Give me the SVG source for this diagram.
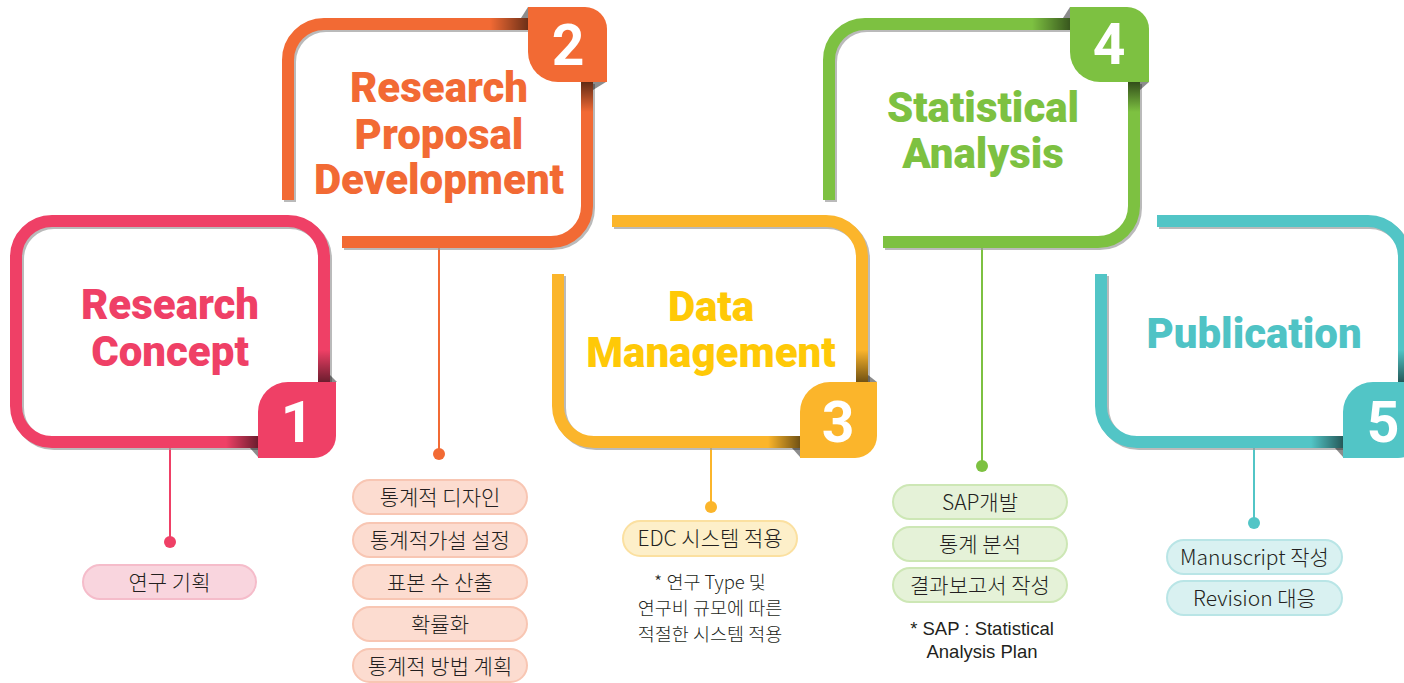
<svg xmlns="http://www.w3.org/2000/svg" width="1404" height="683" viewBox="0 0 1404 683">
<style>
.sh{fill:none;stroke:#9c9c9c;stroke-width:12;opacity:.7}
.fr{fill:none;stroke-width:12}
.title{font-family:Roboto,"Liberation Sans",sans-serif;font-weight:900;font-size:42px;text-anchor:middle}
.num{font-family:Roboto,"Liberation Sans",sans-serif;font-weight:700;font-size:57px;fill:#fff;text-anchor:middle}
.pt{font-family:"Noto Sans CJK KR","Noto Sans",sans-serif;font-weight:300;font-size:21px;fill:#231F20;text-anchor:middle}
.note{font-family:"Noto Sans CJK KR","Noto Sans",sans-serif;font-weight:300;font-size:18.5px;fill:#231F20;text-anchor:middle}
.lnote{font-family:"Liberation Sans",Arial,sans-serif;font-size:18.5px;fill:#231F20;text-anchor:middle}
.cut{stroke:#777;stroke-width:3;opacity:.55;filter:url(#blur)}
.fold{fill:#000;opacity:.45}
</style>
<defs>
<filter id="blur" x="-50%" y="-50%" width="200%" height="200%"><feGaussianBlur stdDeviation="1.6"/></filter>
<linearGradient id="dDown" x1="0" y1="0" x2="0" y2="1"><stop offset="0" stop-color="#000" stop-opacity="0"/><stop offset="1" stop-color="#000" stop-opacity=".55"/></linearGradient>
<linearGradient id="dUp" x1="0" y1="1" x2="0" y2="0"><stop offset="0" stop-color="#000" stop-opacity="0"/><stop offset="1" stop-color="#000" stop-opacity=".6"/></linearGradient>
<linearGradient id="dRight" x1="0" y1="0" x2="1" y2="0"><stop offset="0" stop-color="#000" stop-opacity="0"/><stop offset="1" stop-color="#000" stop-opacity=".55"/></linearGradient>
</defs>
<rect width="1404" height="683" fill="#fff"/>

<g id="connectors">
<line x1="170" y1="448" x2="170" y2="541" stroke="#EF4066" stroke-width="2"/><circle cx="170" cy="542" r="6" fill="#EF4066"/>
<line x1="439" y1="248" x2="439" y2="454" stroke="#F26A34" stroke-width="2"/><circle cx="439" cy="454" r="6" fill="#F26A34"/>
<line x1="711" y1="448" x2="711" y2="507" stroke="#FBB52B" stroke-width="2"/><circle cx="711" cy="507" r="6" fill="#FBB52B"/>
<line x1="982" y1="248" x2="982" y2="466" stroke="#7DC141" stroke-width="2"/><circle cx="982" cy="466" r="6" fill="#7DC141"/>
<line x1="1254" y1="448" x2="1254" y2="523" stroke="#52C5C6" stroke-width="2"/><circle cx="1254" cy="523" r="6" fill="#52C5C6"/>
</g>

<g id="node2">
<path class="sh" transform="translate(2,2)" d="M288,200 L288,60 A36,36 0 0 1 324,24 L528,24 M587,82 L587,206 A36,36 0 0 1 551,242 L342,242"/>
<path class="fr" stroke="#F26A34" d="M288,200 L288,60 A36,36 0 0 1 324,24 L528,24 M587,82 L587,206 A36,36 0 0 1 551,242 L342,242"/>
<rect x="490" y="18" width="38" height="12" fill="url(#dRight)"/>
<rect x="581" y="82" width="12" height="30" fill="url(#dUp)"/>
<polygon class="fold" points="528,7 528,18 521,18"/>
<polygon class="fold" points="593,82 606,82 593,90"/>
<path fill="#F26A34" d="M528,7 L585,7 A22,22 0 0 1 607,29 L607,82 L558,82 A30,30 0 0 1 528,52 Z"/>
<line class="cut" x1="268" y1="202" x2="306" y2="202"/>
<line class="cut" x1="341" y1="230" x2="341" y2="264"/>
<text class="title" fill="#F26A34" x="439" y="102">Research</text>
<text class="title" fill="#F26A34" x="439" y="149">Proposal</text>
<text class="title" fill="#F26A34" x="439" y="194">Development</text>
<text class="num" x="568" y="65">2</text>
</g>

<g id="node4">
<path class="sh" transform="translate(2,2)" d="M829,200 L829,60 A36,36 0 0 1 865,24 L1070,24 M1134,82 L1134,206 A36,36 0 0 1 1098,242 L883,242"/>
<path class="fr" stroke="#7DC141" d="M829,200 L829,60 A36,36 0 0 1 865,24 L1070,24 M1134,82 L1134,206 A36,36 0 0 1 1098,242 L883,242"/>
<rect x="1032" y="18" width="38" height="12" fill="url(#dRight)"/>
<rect x="1128" y="82" width="12" height="30" fill="url(#dUp)"/>
<polygon class="fold" points="1070,7 1070,18 1063,18"/>
<polygon class="fold" points="1140,82 1149,82 1140,90"/>
<path fill="#7DC141" d="M1070,7 L1127,7 A22,22 0 0 1 1149,29 L1149,82 L1100,82 A30,30 0 0 1 1070,52 Z"/>
<line class="cut" x1="809" y1="202" x2="847" y2="202"/>
<line class="cut" x1="882" y1="230" x2="882" y2="264"/>
<text class="title" fill="#7DC141" x="983" y="122">Statistical</text>
<text class="title" fill="#7DC141" x="983" y="168">Analysis</text>
<text class="num" x="1109" y="64">4</text>
</g>

<g id="node1">
<path class="sh" transform="translate(2,2)" d="M258,442 L52,442 A36,36 0 0 1 16,406 L16,257 A36,36 0 0 1 52,221 L288,221 A36,36 0 0 1 324,257 L324,382"/>
<path class="fr" stroke="#EF4066" d="M258,442 L52,442 A36,36 0 0 1 16,406 L16,257 A36,36 0 0 1 52,221 L288,221 A36,36 0 0 1 324,257 L324,382"/>
<rect x="318" y="350" width="12" height="32" fill="url(#dDown)"/>
<rect x="226" y="436" width="32" height="12" fill="url(#dRight)"/>
<polygon class="fold" points="330,375 337,382 330,382"/>
<polygon class="fold" points="250,448 258,448 258,457"/>
<path fill="#EF4066" d="M258,458 L258,412 A30,30 0 0 1 288,382 L336,382 L336,436 A22,22 0 0 1 314,458 Z"/>
<text class="title" fill="#EF4066" x="170" y="319">Research</text>
<text class="title" fill="#EF4066" x="170" y="366">Concept</text>
<text class="num" x="297" y="442">1</text>
</g>

<g id="node3">
<path class="sh" transform="translate(2,2)" d="M558,274 L558,406 A36,36 0 0 0 594,442 L800,442 M612,221 L826,221 A36,36 0 0 1 862,257 L862,382"/>
<path class="fr" stroke="#FBB52B" d="M558,274 L558,406 A36,36 0 0 0 594,442 L800,442 M612,221 L826,221 A36,36 0 0 1 862,257 L862,382"/>
<rect x="856" y="350" width="12" height="32" fill="url(#dDown)"/>
<rect x="768" y="436" width="32" height="12" fill="url(#dRight)"/>
<polygon class="fold" points="868,375 877,382 868,382"/>
<polygon class="fold" points="792,448 800,448 800,457"/>
<path fill="#FBB52B" d="M800,458 L800,412 A30,30 0 0 1 830,382 L877,382 L877,436 A22,22 0 0 1 855,458 Z"/>
<line class="cut" x1="538" y1="273" x2="576" y2="273"/>
<line class="cut" x1="611" y1="204" x2="611" y2="240"/>
<text class="title" fill="#FFC907" x="711" y="321">Data</text>
<text class="title" fill="#FFC907" x="711" y="367">Management</text>
<text class="num" x="838" y="442">3</text>
</g>

<g id="node5">
<path class="sh" transform="translate(2,2)" d="M1101,274 L1101,406 A36,36 0 0 0 1137,442 L1343,442 M1157,221 L1368,221 A36,36 0 0 1 1404,257 L1404,382"/>
<path class="fr" stroke="#52C5C6" d="M1101,274 L1101,406 A36,36 0 0 0 1137,442 L1343,442 M1157,221 L1368,221 A36,36 0 0 1 1404,257 L1404,382"/>
<rect x="1398" y="350" width="12" height="32" fill="url(#dDown)"/>
<rect x="1311" y="436" width="32" height="12" fill="url(#dRight)"/>
<polygon class="fold" points="1335,448 1343,448 1343,457"/>
<path fill="#52C5C6" d="M1343,458 L1343,412 A30,30 0 0 1 1373,382 L1420,382 L1420,436 A22,22 0 0 1 1398,458 Z"/>
<line class="cut" x1="1081" y1="273" x2="1119" y2="273"/>
<line class="cut" x1="1156" y1="204" x2="1156" y2="240"/>
<text class="title" fill="#4FC3C5" x="1254" y="348">Publication</text>
<text class="num" x="1383" y="442">5</text>
</g>

<g id="pills1">
<rect x="83" y="565" width="173" height="34" rx="17" fill="#F9D5DE" stroke="#F5BCCA" stroke-width="2"/>
<text class="pt" x="169.5" y="590">연구 기획</text>
</g>

<g id="pills2" fill="#FCDCD0" stroke="#F8C6B3" stroke-width="2">
<rect x="353" y="480" width="174" height="34" rx="17"/>
<rect x="353" y="523" width="174" height="34" rx="17"/>
<rect x="353" y="565" width="174" height="34" rx="17"/>
<rect x="353" y="607" width="174" height="34" rx="17"/>
<rect x="353" y="649" width="174" height="33" rx="16.5"/>
<g stroke="none">
<text class="pt" x="440" y="505">통계적 디자인</text>
<text class="pt" x="440" y="548">통계적가설 설정</text>
<text class="pt" x="440" y="590">표본 수 산출</text>
<text class="pt" x="440" y="632">확률화</text>
<text class="pt" x="440" y="674">통계적 방법 계획</text>
</g>
</g>

<g id="pills3">
<rect x="623" y="521" width="174" height="35" rx="17.5" fill="#FDEFC9" stroke="#FBE0A0" stroke-width="2"/>
<text class="pt" x="710" y="546">EDC 시스템 적용</text>
<text class="note" x="710" y="589">* 연구 Type 및</text>
<text class="note" x="710" y="615">연구비 규모에 따른</text>
<text class="note" x="710" y="641">적절한 시스템 적용</text>
</g>

<g id="pills4" fill="#E5F2D8" stroke="#CDE7B5" stroke-width="2">
<rect x="893" y="485" width="174" height="34" rx="17"/>
<rect x="893" y="527" width="174" height="34" rx="17"/>
<rect x="893" y="568" width="174" height="34" rx="17"/>
<g stroke="none">
<text class="pt" x="980" y="510">SAP개발</text>
<text class="pt" x="980" y="552">통계 분석</text>
<text class="pt" x="980" y="593">결과보고서 작성</text>
<text class="lnote" x="982" y="635">* SAP : Statistical</text>
<text class="lnote" x="982" y="658">Analysis Plan</text>
</g>
</g>

<g id="pills5" fill="#D9F1F1" stroke="#B9E5E6" stroke-width="2">
<rect x="1167" y="540" width="175" height="34" rx="17"/>
<rect x="1167" y="581" width="175" height="34" rx="17"/>
<g stroke="none">
<text class="pt" x="1254.5" y="565">Manuscript 작성</text>
<text class="pt" x="1254.5" y="606">Revision 대응</text>
</g>
</g>
</svg>
